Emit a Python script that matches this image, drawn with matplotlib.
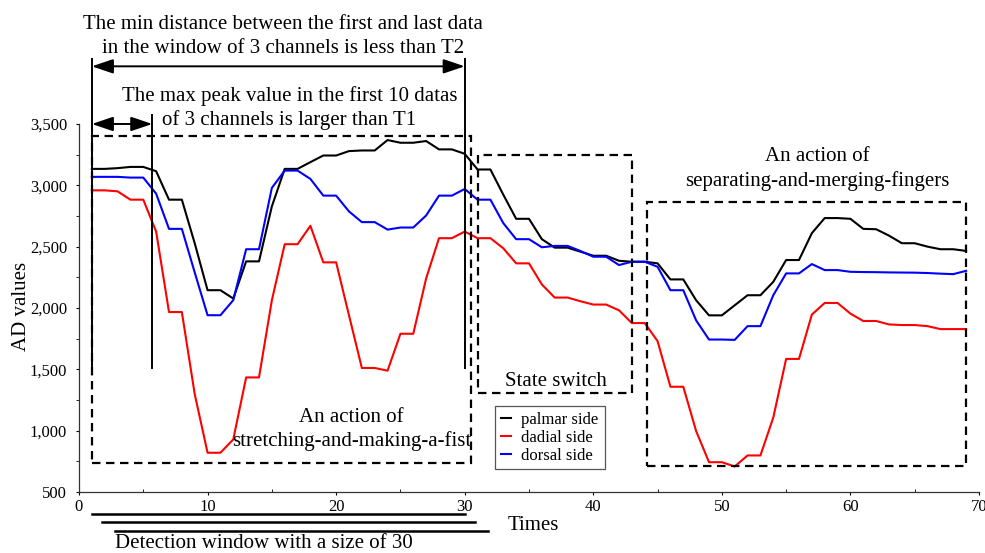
import matplotlib
matplotlib.use("Agg")
import matplotlib.pyplot as plt
from matplotlib.patches import Rectangle
from matplotlib.ticker import FuncFormatter, MultipleLocator

plt.rcParams["font.family"] = ["Liberation Serif", "DejaVu Serif"]

# sample index of each reading
times = list(range(1, 70))

palmar = [3134, 3134, 3140, 3150, 3150, 3115, 2883, 2883, 2528, 2145,
          2145, 2077, 2380, 2380, 2828, 3134, 3134, 3189, 3243, 3243,
          3279, 3284, 3284, 3369, 3347, 3347, 3361, 3293, 3293, 3257,
          3129, 3129, 2924, 2727, 2727, 2561, 2492, 2492, 2459, 2426,
          2426, 2385, 2377, 2377, 2364, 2233, 2233, 2063, 1940, 1940,
          2022, 2104, 2104, 2213, 2391, 2391, 2610, 2733, 2733, 2727,
          2645, 2642, 2590, 2528, 2528, 2500, 2479, 2479, 2465]

dadial = [2959, 2959, 2951, 2883, 2883, 2623, 1967, 1967, 1298, 820,
          820, 929, 1434, 1434, 2063, 2520, 2520, 2670, 2372, 2372,
          1940, 1511, 1511, 1489, 1790, 1790, 2241, 2569, 2569, 2623,
          2569, 2569, 2487, 2364, 2364, 2192, 2085, 2085, 2055, 2028,
          2028, 1981, 1877, 1877, 1730, 1358, 1358, 997, 743, 743,
          708, 798, 798, 1107, 1585, 1585, 1946, 2041, 2041, 1954,
          1894, 1894, 1866, 1861, 1861, 1852, 1828, 1828, 1828]

dorsal = [3069, 3069, 3069, 3063, 3063, 2932, 2645, 2645, 2290, 1941,
          1941, 2064, 2479, 2479, 2979, 3120, 3120, 3052, 2916, 2916,
          2787, 2700, 2700, 2639, 2656, 2656, 2754, 2916, 2916, 2970,
          2883, 2883, 2692, 2561, 2561, 2495, 2506, 2506, 2465, 2418,
          2418, 2350, 2377, 2377, 2336, 2145, 2145, 1899, 1743, 1743,
          1740, 1852, 1852, 2104, 2282, 2282, 2358, 2309, 2309, 2295,
          2293, 2292, 2290, 2289, 2288, 2285, 2280, 2276, 2303]

series_names = ["palmar side", "dadial side", "dorsal side"]
series_colors = ["black", "red", "blue"]

# action segments: (x0, x1, y0, y1)
segments = {
    "fist": (1, 30.5, 740, 3400),
    "switch": (31, 43, 1310, 3250),
    "fingers": (44.2, 69, 710, 2860),
}

# sliding detection windows (start, end) in sample units
windows = [(1, 30), (1.8, 30.8), (2.8, 31.8)]
window_y = [321, 253, 185]

fig = plt.figure(figsize=(9.85, 5.53), dpi=100)
ax = fig.add_axes([0.0802, 0.1103, 0.9137, 0.6655])

for vals, name, col in zip([palmar, dadial, dorsal], series_names, series_colors):
    ax.plot(times, vals, color=col, lw=1.5, label=name)

ax.set_xlim(0, 70)
ax.set_ylim(500, 3500)
ax.xaxis.set_major_locator(MultipleLocator(10))
ax.xaxis.set_minor_locator(MultipleLocator(5))
ax.yaxis.set_major_locator(MultipleLocator(500))
ax.yaxis.set_minor_locator(MultipleLocator(250))
ax.yaxis.set_major_formatter(FuncFormatter(lambda v, _: f"{v:,.0f}"))
ax.tick_params(axis="x", which="major", direction="out", length=2.5, pad=2.5, labelsize=12)
ax.tick_params(axis="x", which="minor", direction="in", length=2.5)
ax.tick_params(axis="y", which="both", direction="out", length=2.5, pad=6, labelsize=12)
for side in ("top", "right"):
    ax.spines[side].set_visible(False)
for side in ("left", "bottom"):
    ax.spines[side].set_linewidth(0.9)
    ax.spines[side].set_color("#333333")

ax.set_xlabel("Times", fontsize=15, va="center")
ax.xaxis.set_label_coords(0.5044, -0.0897)
ax.set_ylabel("AD values", fontsize=15, va="center")
ax.yaxis.set_label_coords(-0.064, 0.504)

# dashed boxes around each segment
for x0, x1, y0, y1 in segments.values():
    ax.add_patch(Rectangle((x0, y0), x1 - x0, y1 - y0, fill=False, ec="black",
                           lw=1.6, ls=(0, (3.8, 2.5)), clip_on=False, zorder=4))

# vertical markers and arrows for the two thresholds
ax.vlines([1, 30], 1500, 4038, color="black", lw=1.4, clip_on=False)
ax.vlines(5.7, 1500, 3579, color="black", lw=1.4, clip_on=False)
head = "<|-|>,head_length=0.65,head_width=0.22"
ax.annotate("", xy=(30, 3970), xytext=(1, 3970), annotation_clip=False,
            arrowprops=dict(arrowstyle=head, color="black", lw=1.4,
                            mutation_scale=20, shrinkA=0, shrinkB=0))
ax.annotate("", xy=(5.7, 3500), xytext=(1, 3500), annotation_clip=False,
            arrowprops=dict(arrowstyle=head, color="black", lw=1.4,
                            mutation_scale=20, shrinkA=0, shrinkB=0))

txt = dict(fontsize=15, ha="center", va="center", linespacing=1.3)
ax.text(15.87, 4213, "The min distance between the first and last data\n"
        "in the window of 3 channels is less than T2", **txt)
ax.text(16.37, 3628, "The max peak value in the first 10 datas\n"
        "of 3 channels is larger than T1", **txt)
ax.text(57.4, 3132, "An action of\nseparating-and-merging-fingers", **txt)
ax.text(21.2, 1010, "An action of\nstretching-and-making-a-fist", **txt)
ax.text(37.06, 1401, "State switch", **txt)

# detection windows under the time axis
for (w0, w1), wy in zip(windows, window_y):
    ax.plot([w0, w1], [wy, wy], color="black", lw=1.8, clip_on=False)
ax.text(2.8, 78, "Detection window with a size of 30", fontsize=15,
        ha="left", va="center")

leg = ax.legend(loc="upper left", bbox_to_anchor=(0.462, 0.2345), borderaxespad=0,
                fontsize=12, handlelength=0.6, handletextpad=0.65, labelspacing=0.12,
                borderpad=0.35, fancybox=False, framealpha=1, edgecolor="#555555")
leg.get_frame().set_linewidth(0.9)

fig.savefig("out.png", dpi=100)
